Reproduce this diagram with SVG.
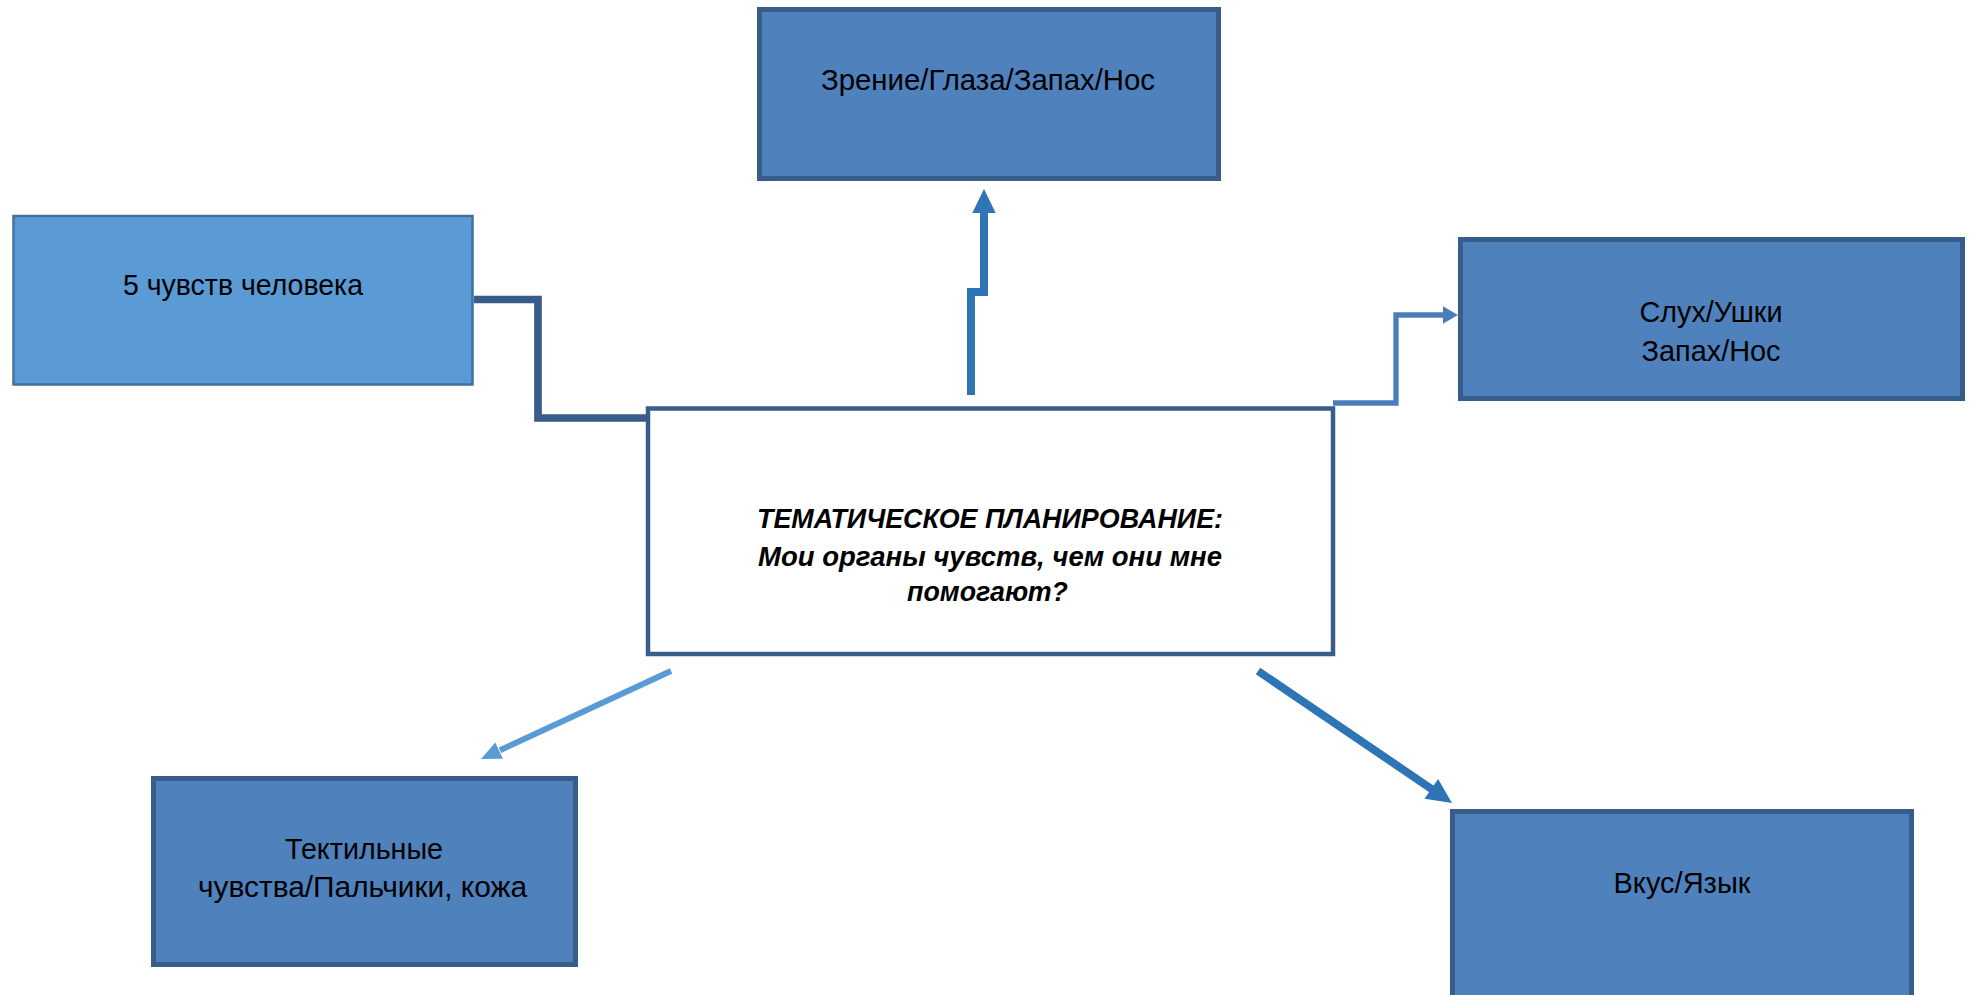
<svg xmlns="http://www.w3.org/2000/svg" width="1975" height="995" viewBox="0 0 1975 995">
  <style>
    .box { fill: #4F81BD; stroke: #385D8A; stroke-width: 5; }
    .lbl { font-family: "Liberation Sans", Arial, sans-serif; font-size: 30px; fill: #000; text-anchor: middle; }
    .ttl { font-family: "Liberation Sans", Arial, sans-serif; font-size: 28px; font-weight: bold; font-style: italic; fill: #000; text-anchor: middle; }
    .wire { fill: none; stroke-linejoin: miter; stroke-linecap: butt; }
  </style>
  <rect width="1975" height="995" fill="#FFFFFF"/>

  <g id="connectors">
    <path class="wire" d="M474,299.5 H538 V418 H646" stroke="#385D8A" stroke-width="7.7"/>
    <path class="wire" d="M971,395 V292 H984 V212" stroke="#2E75B6" stroke-width="8"/>
    <polygon points="984,189 972.3,213 995.7,213" fill="#2E75B6"/>
    <path class="wire" d="M1333,403 H1396 V315 H1444" stroke="#4A7EBB" stroke-width="5.3"/>
    <polygon points="1458,315 1443,306.3 1443,323.7" fill="#4A7EBB"/>
    <line class="wire" x1="671" y1="671" x2="500" y2="750.2" stroke="#5B9BD5" stroke-width="6"/>
    <polygon points="481,759 502.9,758.8 495.3,742.4" fill="#5B9BD5"/>
    <line class="wire" x1="1258" y1="671" x2="1433" y2="790" stroke="#2E75B6" stroke-width="8"/>
    <polygon points="1452,803 1424.5,798.8 1438.1,779.0" fill="#2E75B6"/>
  </g>

  <g id="node-5senses">
    <rect x="13.5" y="216" width="459" height="168.5" fill="#5B9BD5" stroke="#41719C" stroke-width="2.5"/>
    <text class="lbl" x="243" y="295" textLength="240" lengthAdjust="spacingAndGlyphs">5 чувств человека</text>
  </g>

  <g id="node-sight">
    <rect class="box" x="759.5" y="9.5" width="459" height="169"/>
    <text class="lbl" x="988" y="90" textLength="334" lengthAdjust="spacingAndGlyphs">Зрение/Глаза/Запах/Нос</text>
  </g>

  <g id="node-hearing">
    <rect class="box" x="1460.5" y="239.5" width="502" height="159"/>
    <text class="lbl" x="1711" y="322" textLength="143" lengthAdjust="spacingAndGlyphs">Слух/Ушки</text>
    <text class="lbl" x="1711" y="361" textLength="139" lengthAdjust="spacingAndGlyphs">Запах/Нос</text>
  </g>

  <g id="node-center">
    <rect x="648" y="408.5" width="685" height="245.5" fill="#FFFFFF" stroke="#385D8A" stroke-width="4.5"/>
    <text class="ttl" x="990" y="528" textLength="466" lengthAdjust="spacingAndGlyphs">ТЕМАТИЧЕСКОЕ ПЛАНИРОВАНИЕ:</text>
    <text class="ttl" x="990" y="566" textLength="464" lengthAdjust="spacingAndGlyphs">Мои органы чувств, чем они мне</text>
    <text class="ttl" x="987.5" y="601" textLength="161" lengthAdjust="spacingAndGlyphs">помогают?</text>
  </g>

  <g id="node-touch">
    <rect class="box" x="153.5" y="778.5" width="422" height="186"/>
    <text class="lbl" x="364" y="859" textLength="158" lengthAdjust="spacingAndGlyphs">Тектильные</text>
    <text class="lbl" x="362.5" y="897" textLength="329" lengthAdjust="spacingAndGlyphs">чувства/Пальчики, кожа</text>
  </g>

  <g id="node-taste">
    <rect class="box" x="1452.5" y="811.5" width="459" height="200"/>
    <text class="lbl" x="1682" y="893" textLength="137" lengthAdjust="spacingAndGlyphs">Вкус/Язык</text>
  </g>
</svg>
